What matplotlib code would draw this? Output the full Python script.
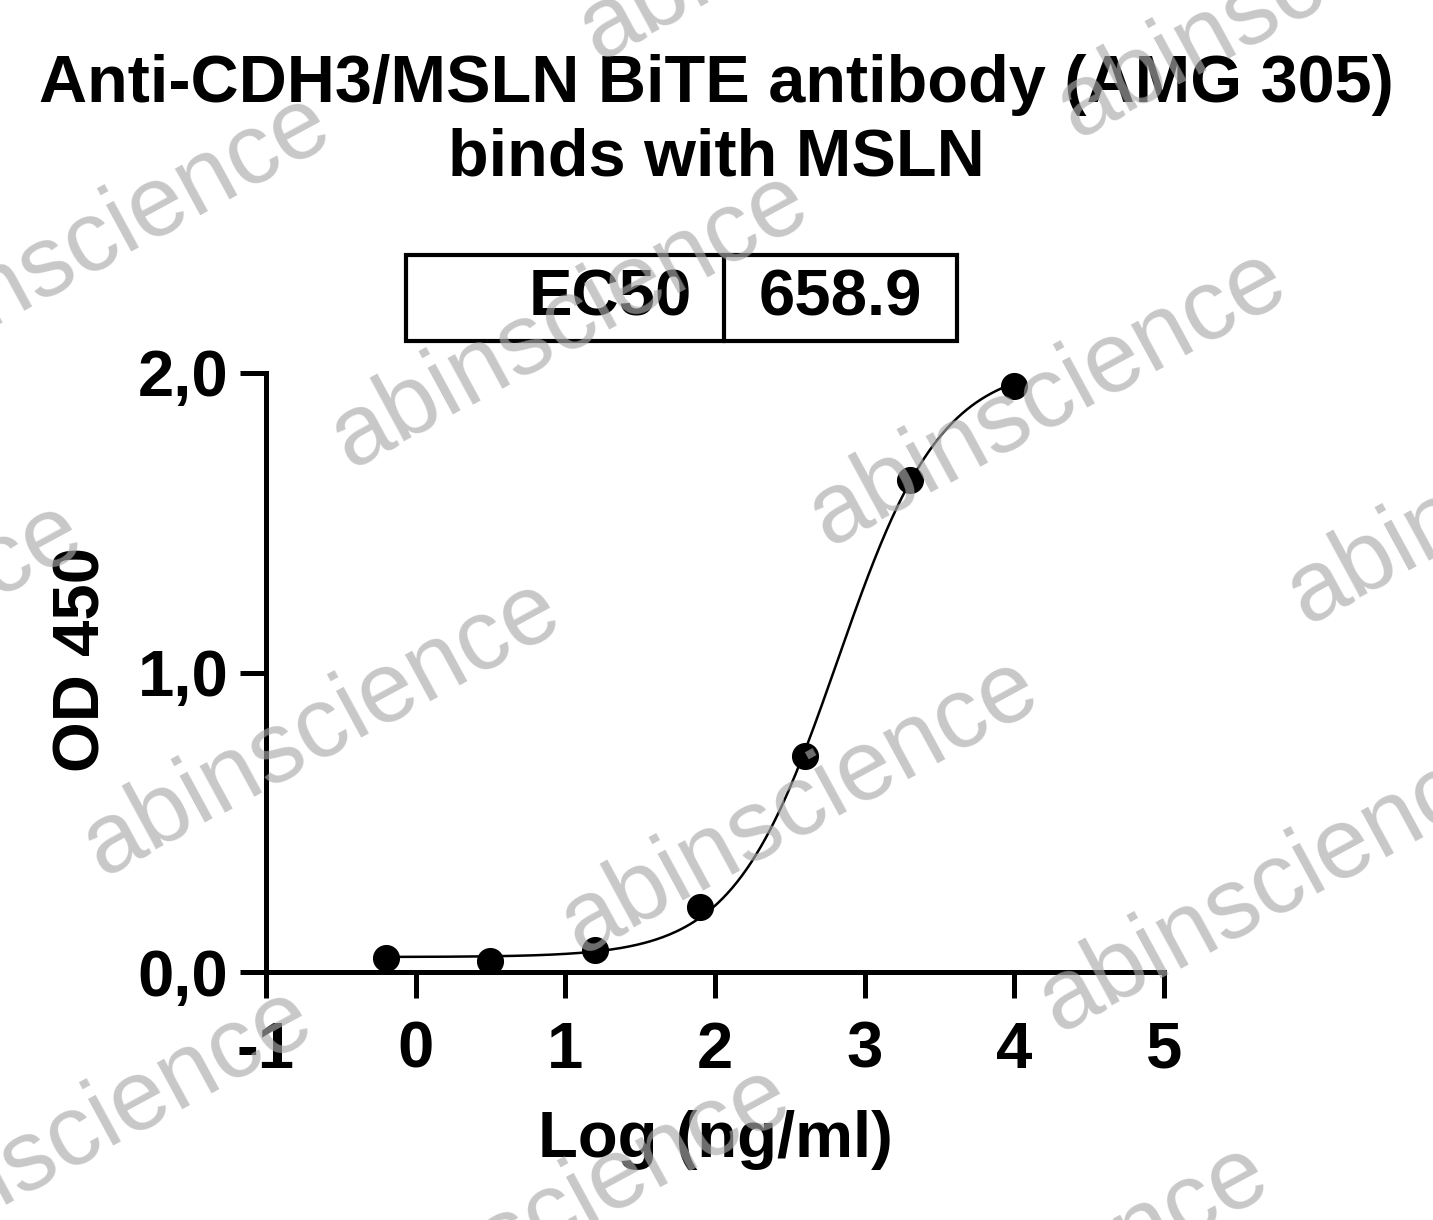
import numpy as np
import matplotlib
matplotlib.use("Agg")
import matplotlib.pyplot as plt
from matplotlib.patches import Rectangle
from matplotlib.lines import Line2D

plt.rcParams['font.family'] = ['Liberation Sans', 'DejaVu Sans']

# data: log10 concentration (ng/ml) and OD 450
log_conc = [-0.2, 0.5, 1.2, 1.9, 2.6, 3.3, 4.0]
od450 = [0.047, 0.037, 0.073, 0.217, 0.721, 1.643, 1.957]

# 4PL fit parameters
ec50 = 658.9
bottom = 0.05
top = 2.03
hill = 1.25

xticks = [-1, 0, 1, 2, 3, 4, 5]
yticks = [0.0, 1.0, 2.0]
ytick_labels = ["0,0", "1,0", "2,0"]

W, H = 1433, 1220
fig = plt.figure(figsize=(W / 100, H / 100), dpi=100)
ax = fig.add_axes([266 / W, 1 - 972 / H, 898 / W, 599 / H])

# fitted curve
xx = np.linspace(min(log_conc), max(log_conc), 400)
yy = bottom + (top - bottom) / (1 + 10 ** ((np.log10(ec50) - xx) * hill))
ax.plot(xx, yy, color='black', lw=1.8, zorder=3)
ax.plot(log_conc, od450, 'o', color='black', ms=18.5, zorder=4, clip_on=False)

ax.set_xlim(-1, 5)
ax.set_ylim(0, 2)
ax.set_xticks(xticks)
ax.set_xticklabels([str(t) for t in xticks])
ax.set_yticks(yticks)
ax.set_yticklabels(ytick_labels)
for s in ['top', 'right']:
    ax.spines[s].set_visible(False)
for s in ['left', 'bottom']:
    ax.spines[s].set_linewidth(3.6)
ax.tick_params(axis='both', width=3.6, length=19, labelsize=47)
ax.tick_params(axis='x', pad=16)
ax.tick_params(axis='y', pad=8)
for lab in ax.get_xticklabels() + ax.get_yticklabels():
    lab.set_fontweight('bold')

fig.text(715 / W, 1 - 1140 / H, "Log (ng/ml)", ha='center', va='center',
         fontsize=47, fontweight='bold')
fig.text(83 / W, 1 - 660 / H, "OD 450", ha='center', va='center',
         rotation=90, fontsize=47, fontweight='bold')

# title
fig.text(716 / W, 1 - 85 / H, "Anti-CDH3/MSLN BiTE antibody (AMG 305)",
         ha='center', va='center', fontsize=48, fontweight='bold')
fig.text(716 / W, 1 - 158 / H, "binds with MSLN",
         ha='center', va='center', fontsize=48, fontweight='bold')

# EC50 box
bx0, bx1, bdiv, by0, by1 = 406, 957, 724, 255, 341
fig.patches.append(Rectangle((bx0 / W, 1 - by1 / H), (bx1 - bx0) / W, (by1 - by0) / H,
                             transform=fig.transFigure, fill=False, lw=3, ec='black'))
fig.lines.append(Line2D([bdiv / W, bdiv / W], [1 - by1 / H, 1 - by0 / H],
                        transform=fig.transFigure, lw=3, color='black'))
fig.text(692 / W, 1 - 298 / H, "EC50", ha='right', va='center',
         fontsize=47, fontweight='bold')
fig.text(840 / W, 1 - 298 / H, "%.1f" % ec50, ha='center', va='center',
         fontsize=47, fontweight='bold')

# watermark
for i in range(-2, 4):
    for j in range(-2, 4):
        cx = 570 + 478 * i - 248 * j
        cy = 320 + 78 * i + 408 * j
        if -400 < cx < W + 400 and -300 < cy < H + 300:
            fig.text(cx / W, 1 - cy / H, "abinscience", ha='center', va='center',
                     rotation=28.5, fontsize=72, color='#aaaaaa', alpha=0.65,
                     zorder=10, rotation_mode='anchor')

fig.savefig("out.png", dpi=100)
